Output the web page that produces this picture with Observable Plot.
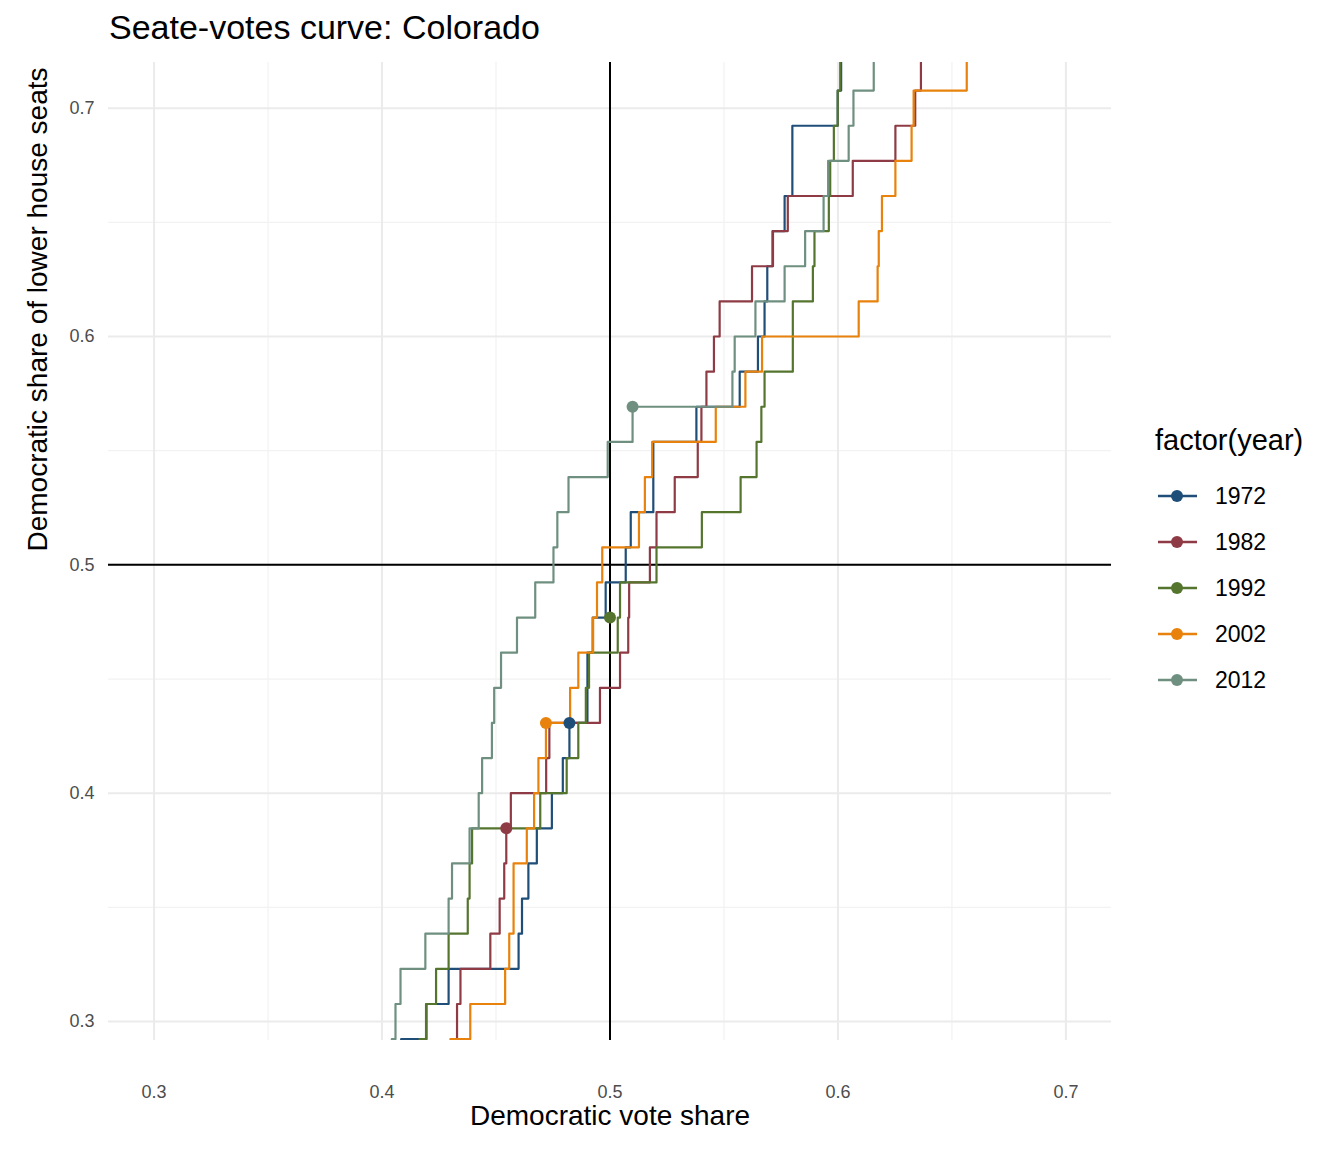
<!DOCTYPE html>
<html>
<head>
<meta charset="utf-8">
<script src="https://cdn.jsdelivr.net/npm/d3@7"></script>
<script src="https://cdn.jsdelivr.net/npm/@observablehq/plot@0.6"></script>
<style>
  body { margin: 0; background: #fff; font-family: "Liberation Sans", Arial, sans-serif; }
  #wrap { position: relative; width: 1344px; height: 1152px; }
  #title { position: absolute; left: 109px; top: 8px; font-size: 34px; color: #000; }
  #chart { position: absolute; left: 0; top: 50px; }
  #legend { position: absolute; left: 1155px; top: 424px; }
  #legend .ttl { font-size: 29px; margin-bottom: 16px; }
  #legend .row { display: flex; align-items: center; height: 46px; font-size: 23px; }
  #legend svg { margin-right: 18px; }
</style>
</head>
<body>
<div id="wrap">
  <div id="title">Seate-votes curve: Colorado</div>
  <div id="chart"></div>
  <div id="legend"></div>
</div>
<script>
const years = ['1972', '1982', '1992', '2002', '2012']
const colors = ['#1f4e79', '#8f3b45', '#55752f', '#e8820c', '#6f9080']
const seatCount = 65
// seat counts (out of 65) at which each vote share step begins
const seatSteps = d3.range(18, 48)

const votes1972 = [0.3984, 0.4084, 0.4195, 0.4292, 0.4599, 0.4614, 0.4642, 0.4679, 0.4745, 0.4793, 0.4822, 0.4901, 0.4901, 0.4924, 0.4981, 0.5069, 0.5091, 0.5190, 0.5190, 0.5379, 0.5569, 0.5649, 0.5678, 0.5690, 0.5713, 0.5766, 0.5800, 0.5800, 0.5999, 0.6014]
const votes1982 = [0.4214, 0.4314, 0.4329, 0.4344, 0.4475, 0.4516, 0.4536, 0.4545, 0.4565, 0.4720, 0.4734, 0.4956, 0.5044, 0.5080, 0.5084, 0.5175, 0.5204, 0.5284, 0.5385, 0.5401, 0.5423, 0.5456, 0.5481, 0.5623, 0.5715, 0.5780, 0.6065, 0.6252, 0.6339, 0.6364]
const votes1992 = [0.4065, 0.4165, 0.4193, 0.4237, 0.4292, 0.4376, 0.4384, 0.4395, 0.4694, 0.4810, 0.4861, 0.4894, 0.4908, 0.5034, 0.5044, 0.5204, 0.5403, 0.5573, 0.5643, 0.5664, 0.5678, 0.5802, 0.5802, 0.5890, 0.5897, 0.5960, 0.5966, 0.5982, 0.5999, 0.6010]
const votes2002 = [0.4200, 0.4300, 0.4387, 0.4540, 0.4558, 0.4577, 0.4577, 0.4635, 0.4667, 0.4686, 0.4719, 0.4825, 0.4861, 0.4926, 0.4943, 0.4966, 0.5127, 0.5153, 0.5185, 0.5464, 0.5594, 0.5667, 0.6091, 0.6174, 0.6179, 0.6193, 0.6252, 0.6323, 0.6332, 0.6565]
const votes2012 = [0.3943, 0.4043, 0.4059, 0.4081, 0.4190, 0.4292, 0.4307, 0.4384, 0.4424, 0.4439, 0.4482, 0.4492, 0.4522, 0.4592, 0.4672, 0.4752, 0.4769, 0.4818, 0.4990, 0.5099, 0.5537, 0.5547, 0.5638, 0.5766, 0.5856, 0.5937, 0.5957, 0.6047, 0.6068, 0.6157]
const allVotes = [votes1972, votes1982, votes1992, votes2002, votes2012]

// observed statewide result for each year
const dotVotes = [0.4822, 0.4545, 0.5000, 0.4719, 0.5099]
const dotSeats = [28, 25, 31, 28, 37]

const xTicks = [0.3, 0.4, 0.5, 0.6, 0.7]
const xMinor = [0.35, 0.45, 0.55, 0.65]
const yTicks = [0.3, 0.4, 0.5, 0.6, 0.7]
const yMinor = [0.35, 0.45, 0.55, 0.65]

const curves = years.flatMap((year, i) =>
  seatSteps.map((s, j) => ({ year, vote: allVotes[i][j], seats: s / seatCount })))
const dots = years.map((year, i) => ({ year, vote: dotVotes[i], seats: dotSeats[i] / seatCount }))

const chart = Plot.plot({
  width: 1130,
  height: 1090,
  marginTop: 12,
  marginBottom: 100,
  marginLeft: 108,
  marginRight: 19,
  style: { fontFamily: '"Liberation Sans", Arial, sans-serif', background: 'white' },
  x: { domain: [0.28, 0.72], ticks: xTicks, tickFormat: d3.format('.1f'), label: null },
  y: { domain: [0.2917, 0.72], ticks: yTicks, tickFormat: d3.format('.1f'), label: null },
  color: { domain: years, range: colors },
  marks: [
    Plot.ruleX(xMinor, { stroke: '#f2f2f2', strokeWidth: 1.2 }),
    Plot.ruleY(yMinor, { stroke: '#f2f2f2', strokeWidth: 1.2 }),
    Plot.ruleX(xTicks, { stroke: '#ebebeb', strokeWidth: 2 }),
    Plot.ruleY(yTicks, { stroke: '#ebebeb', strokeWidth: 2 }),
    Plot.axisX({ ticks: xTicks, tickSize: 0, tickPadding: 45, fontSize: 18, tickFormat: d3.format('.1f'), fill: '#4d4d4d', label: null }),
    Plot.axisY({ ticks: yTicks, tickSize: 0, tickPadding: 14, fontSize: 18, tickFormat: d3.format('.1f'), fill: '#4d4d4d', label: null }),
    Plot.text(['Democratic vote share'], { frameAnchor: 'bottom', dy: 84, fontSize: 28, fill: '#000' }),
    Plot.text(['Democratic share of lower house seats'], { frameAnchor: 'left', dx: -70, rotate: -90, fontSize: 28, fill: '#000' }),
    Plot.ruleX([0.5], { stroke: '#000', strokeWidth: 2 }),
    Plot.ruleY([0.5], { stroke: '#000', strokeWidth: 2 }),
    Plot.line(curves, { x: 'vote', y: 'seats', z: 'year', stroke: 'year', curve: 'step-after', strokeWidth: 2.2, clip: true }),
    Plot.dot(dots, { x: 'vote', y: 'seats', fill: 'year', r: 6 })
  ]
})
document.getElementById('chart').append(chart)

const legend = d3.select('#legend')
legend.append('div').attr('class', 'ttl').text('factor(year)')
years.forEach((year, i) => {
  const row = legend.append('div').attr('class', 'row')
  const s = row.append('svg').attr('width', 42).attr('height', 20)
  s.append('line').attr('x1', 3).attr('x2', 42).attr('y1', 10).attr('y2', 10)
    .attr('stroke', colors[i]).attr('stroke-width', 2.5)
  s.append('circle').attr('cx', 22).attr('cy', 10).attr('r', 6).attr('fill', colors[i])
  row.append('span').text(year)
})
</script>
</body>
</html>
